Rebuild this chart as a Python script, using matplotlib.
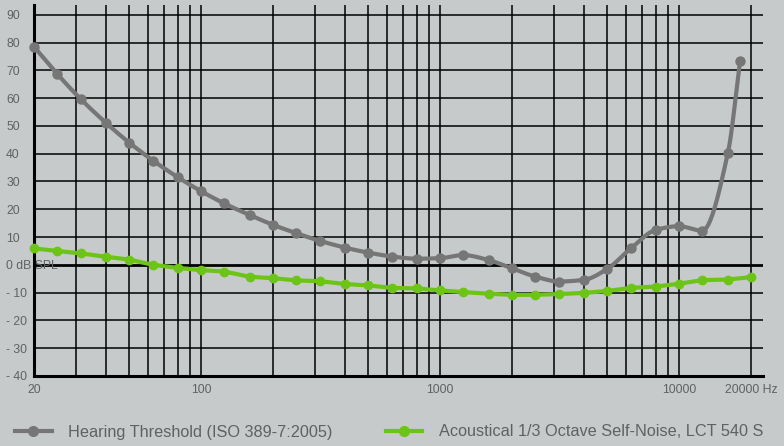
import numpy as np
import matplotlib
matplotlib.use("Agg")
import matplotlib.pyplot as plt
from matplotlib.lines import Line2D

# 1/3-octave frequencies (Hz)
freq_hearing = [20, 25, 31.5, 40, 50, 63, 80, 100, 125, 160, 200, 250, 315, 400, 500,
                630, 800, 1000, 1250, 1600, 2000, 2500, 3150, 4000, 5000, 6300, 8000,
                10000, 12500, 16000, 18000]
hearing_db = [78.5, 68.7, 59.5, 51.1, 44.0, 37.5, 31.5, 26.5, 22.1, 17.9, 14.4, 11.4, 8.6,
              6.2, 4.4, 3.0, 2.2, 2.4, 3.5, 1.7, -1.3, -4.2, -6.0, -5.4, -1.5, 6.0, 12.6,
              13.9, 12.3, 40.2, 73.2]

freq_noise = [20, 25, 31.5, 40, 50, 63, 80, 100, 125, 160, 200, 250, 315, 400, 500,
              630, 800, 1000, 1250, 1600, 2000, 2500, 3150, 4000, 5000, 6300, 8000,
              10000, 12500, 16000, 20000]
noise_db = [5.9, 5.0, 4.1, 2.9, 1.9, 0.0, -1.1, -1.9, -2.4, -4.3, -4.8, -5.6, -5.9, -6.9,
            -7.4, -8.3, -8.5, -9.2, -9.8, -10.4, -10.8, -10.8, -10.5, -10.1, -9.4, -8.3,
            -7.8, -6.8, -5.5, -5.3, -4.4]

x_major = [20, 100, 1000, 10000, 20000]
x_labels = ["20", "100", "1000", "10000", "20000 Hz"]
y_ticks = [-40, -30, -20, -10, 0, 10, 20, 30, 40, 50, 60, 70, 80, 90]
y_labels = ["- 40", "- 30", "- 20", "- 10", "0 dB SPL", "10", "20", "30", "40", "50",
            "60", "70", "80", "90"]

gray = "#767676"
green = "#6cc417"
bg = "#c6caca"
txt = "#5e6262"

plt.rcParams['font.family'] = ['Liberation Sans', 'DejaVu Sans']


def pchip_path(x, y, n=20):
    # monotone cubic through the points, no overshoot
    x = np.asarray(x, float)
    y = np.asarray(y, float)
    h = np.diff(x)
    d = np.diff(y) / h
    m = np.zeros_like(y)
    for i in range(1, len(y) - 1):
        if d[i - 1] * d[i] > 0:
            w1 = 2 * h[i] + h[i - 1]
            w2 = h[i] + 2 * h[i - 1]
            m[i] = (w1 + w2) / (w1 / d[i - 1] + w2 / d[i])
    m[0] = d[0]
    m[-1] = d[-1]
    xs, ys = [], []
    t = np.linspace(0, 1, n, endpoint=False)
    for i in range(len(h)):
        h00 = 2 * t**3 - 3 * t**2 + 1
        h10 = t**3 - 2 * t**2 + t
        h01 = -2 * t**3 + 3 * t**2
        h11 = t**3 - t**2
        xs.extend(x[i] + t * h[i])
        ys.extend(h00 * y[i] + h10 * h[i] * m[i] + h01 * y[i + 1] + h11 * h[i] * m[i + 1])
    xs.append(x[-1])
    ys.append(y[-1])
    return np.array(xs), np.array(ys)


fig = plt.figure(figsize=(7.84, 4.46), dpi=100, facecolor=bg)
ax = fig.add_axes([34 / 784, 70 / 446, (763 - 34) / 784, (376 - 5) / 446])
ax.set_facecolor(bg)
ax.set_xscale("log")
ax.set_xlim(20, 20 * 10 ** ((763 - 34) / 239))
ax.set_ylim(-40, 93.5)

# grid
minor = [v * m for m in (10, 100, 1000) for v in range(2, 10)] + [30, 40, 50, 60, 70, 80, 90]
minor = sorted(set(v for v in minor if 20 < v < 10000 and v not in x_major))
for v in minor + x_major[1:]:
    ax.axvline(v, color="black", lw=1.1, zorder=1)
for v in y_ticks[1:]:
    ax.axhline(v, color="black", lw=2.0 if v == 0 else 1.1, zorder=1)

for s in ("top", "right"):
    ax.spines[s].set_visible(False)
for s in ("left", "bottom"):
    ax.spines[s].set_linewidth(2.2)
    ax.spines[s].set_color("black")
    ax.spines[s].set_zorder(3)

ax.set_xticks(x_major)
ax.set_xticklabels(x_labels)
ax.set_xticks([], minor=True)
ax.set_yticks(y_ticks)
ax.set_yticklabels(y_labels)
ax.tick_params(length=0, labelsize=8.8, colors=txt)
ax.tick_params(axis="x", pad=6)
ax.tick_params(axis="y", pad=20)
for lab in ax.get_yticklabels():
    lab.set_ha("left")

sx, sy = pchip_path(np.log10(freq_hearing), hearing_db)
ax.plot(10 ** sx, sy, color=gray, lw=3, solid_capstyle="round", zorder=4, clip_on=False)
ax.plot(freq_hearing, hearing_db, "o", color=gray, ms=6.5, zorder=5, clip_on=False)

ax.plot(freq_noise, noise_db, "-o", color=green, lw=3, ms=6, zorder=4,
        solid_joinstyle="round", clip_on=False)

handles = [
    Line2D([], [], color=gray, lw=3, marker="o", ms=7),
    Line2D([], [], color=green, lw=3, marker="o", ms=7),
]
fig.legend(handles, ["Hearing Threshold (ISO 389-7:2005)",
                     "Acoustical 1/3 Octave Self-Noise, LCT 540 S"],
           loc="center left", bbox_to_anchor=(15 / 784, 1 - 432 / 446), ncol=2,
           frameon=False, fontsize=11.7, labelcolor=txt, handlelength=2.25,
           handletextpad=1.0, columnspacing=3.3, borderpad=0, borderaxespad=0)

fig.savefig("out.png", dpi=100, facecolor=bg)
